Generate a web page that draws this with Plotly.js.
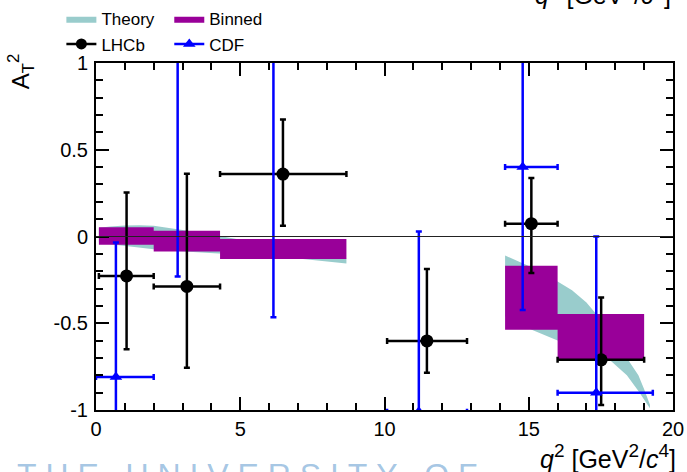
<!DOCTYPE html>
<html>
<head>
<meta charset="utf-8">
<script src="https://cdn.plot.ly/plotly-3.0.1.min.js"></script>
<style>html,body{margin:0;padding:0;background:#fff;}#chart{width:687px;height:472px;}</style>
</head>
<body>
<div id="chart"></div>
<script>
// ---- Theory band (two q^2 regions) ----
const theoryX1  = [0.1, 0.5, 1.0, 1.5, 2.0, 2.5, 3.0, 4.0, 5.0, 6.0, 7.0, 8.0, 8.68];
const theoryUp1 = [0.050, 0.058, 0.063, 0.065, 0.062, 0.052, 0.038, 0.012, -0.018, -0.048, -0.078, -0.108, -0.128];
const theoryLo1 = [-0.030, -0.045, -0.054, -0.064, -0.073, -0.081, -0.088, -0.098, -0.106, -0.115, -0.127, -0.142, -0.155];
const theoryX2  = [14.18, 15.0, 16.0, 16.5, 17.0, 17.3, 17.8, 18.4, 18.8, 19.0, 19.2];
const theoryUp2 = [-0.11, -0.17, -0.26, -0.31, -0.38, -0.44, -0.55, -0.70, -0.80, -0.88, -0.97];
const theoryLo2 = [-0.46, -0.53, -0.60, -0.63, -0.655, -0.675, -0.71, -0.80, -0.89, -0.94, -0.99];

// ---- Binned theory ----
const binLo  = [0.1, 2.0, 4.3, 14.18, 16.0];
const binHi  = [2.0, 4.3, 8.68, 16.0, 19.0];
const binTop = [0.054, 0.033, -0.015, -0.169, -0.446];
const binBot = [-0.048, -0.087, -0.130, -0.538, -0.707];

// ---- LHCb ----
const lhcbX     = [1.06, 3.15, 6.48, 11.47, 15.09, 17.51];
const lhcbY     = [-0.227, -0.288, 0.360, -0.602, 0.074, -0.711];
const lhcbErrUp = [0.481, 0.650, 0.314, 0.414, 0.263, 0.359];
const lhcbErrDn = [0.423, 0.468, 0.298, 0.183, 0.285, 0.260];
const lhcbBinLo = [0.1, 2.0, 4.3, 10.09, 14.18, 16.0];
const lhcbBinHi = [2.0, 4.3, 8.68, 12.86, 16.0, 19.0];

// ---- CDF ----
const cdfX     = [0.69, 2.83, 6.15, 11.19, 14.79, 17.34];
const cdfY     = [-0.81, 1.5, 1.6, -1.01, 0.40, -0.90];
const cdfErrUp = [0.776, 1.0, 1.0, 1.039, 0.80, 0.90];
const cdfErrDn = [0.80, 1.731, 2.065, 1.0, 0.823, 0.90];
const cdfBinLo = [0.0, 2.0, 4.3, 10.09, 14.18, 16.0];
const cdfBinHi = [2.0, 4.3, 8.68, 12.86, 16.0, 19.3];

const yTickVals = [-1, -0.5, 0, 0.5, 1];
const yTickText = ['-1', '-0.5', '0', '0.5', '1'];

const FONT = 'Liberation Sans, Arial, Helvetica, sans-serif';
const TEAL = 'rgb(153,204,204)';
const PURPLE = 'rgb(153,0,153)';
const BLUE = 'rgb(0,0,255)';

function rev(a){ return a.slice().reverse(); }
const bandX = [...theoryX1, ...rev(theoryX1), null, ...theoryX2, ...rev(theoryX2)];
const bandY = [...theoryUp1, ...rev(theoryLo1), null, ...theoryUp2, ...rev(theoryLo2)];

// binned boxes as closed polygons (drawn above the band)
const boxX = [], boxY = [];
binLo.forEach((lo, i) => {
  if (i) { boxX.push(null); boxY.push(null); }
  boxX.push(lo, binHi[i], binHi[i], lo);
  boxY.push(binBot[i], binBot[i], binTop[i], binTop[i]);
});

const sup = s => '<sup><span style="font-size:19px">' + s + '</span></sup>';
const q2title = '<i>q</i>' + sup('2') + ' [GeV' + sup('2') + '/<i>c</i>' + sup('4') + ']';

const traces = [
  { type:'scatter', x:bandX, y:bandY, mode:'lines', fill:'toself', fillcolor:TEAL,
    line:{width:0, color:TEAL}, name:'Theory', legend:'legend', hoverinfo:'skip' },
  { type:'scatter', x:boxX, y:boxY, mode:'lines', fill:'toself', fillcolor:PURPLE,
    line:{width:0, color:PURPLE}, name:'Binned', legend:'legend2', hoverinfo:'skip' },
  { type:'scatter', x:lhcbX, y:lhcbY, mode:'markers', showlegend:false,
    marker:{symbol:'circle', size:13, color:'black'},
    error_y:{type:'data', symmetric:false, array:lhcbErrUp, arrayminus:lhcbErrDn, color:'black', thickness:2.5, width:3},
    error_x:{type:'data', symmetric:false, array:lhcbBinHi.map((h,i)=>h-lhcbX[i]), arrayminus:lhcbX.map((x,i)=>x-lhcbBinLo[i]), color:'black', thickness:2.5, width:3} },
  { type:'scatter', x:cdfX, y:cdfY, mode:'markers', showlegend:false,
    marker:{symbol:'triangle-up', size:11, color:BLUE},
    error_y:{type:'data', symmetric:false, array:cdfErrUp, arrayminus:cdfErrDn, color:BLUE, thickness:2.5, width:3},
    error_x:{type:'data', symmetric:false, array:cdfBinHi.map((h,i)=>h-cdfX[i]), arrayminus:cdfX.map((x,i)=>x-cdfBinLo[i]), color:BLUE, thickness:2.5, width:3} },
  { type:'scatter', x:[null], y:[null], mode:'lines+markers', name:'LHCb', legend:'legend',
    line:{color:'black', width:2.5}, marker:{symbol:'circle', size:11, color:'black'} },
  { type:'scatter', x:[null], y:[null], mode:'lines+markers', name:'CDF', legend:'legend2',
    line:{color:BLUE, width:2.5}, marker:{symbol:'triangle-up', size:11, color:BLUE} }
];

const axisCommon = {
  showline:true, linecolor:'black', linewidth:2, mirror:'allticks',
  ticks:'inside', ticklen:13, tickwidth:2, tickcolor:'black',
  showgrid:false, zeroline:false, fixedrange:true, automargin:false,
  tickfont:{family:FONT, size:20, color:'black'}
};

const layout = {
  width:687, height:472,
  margin:{l:96, r:14, t:63, b:62, autoexpand:false},
  paper_bgcolor:'white', plot_bgcolor:'white',
  font:{family:FONT, color:'black'},
  showlegend:true,
  xaxis:Object.assign({}, axisCommon, {
    range:[0,20], tickmode:'linear', tick0:0, dtick:5, ticklabelstandoff:0,
    minor:{tickmode:'linear', tick0:0, dtick:1, ticks:'inside', ticklen:7, tickwidth:2, tickcolor:'black', showgrid:false}
  }),
  yaxis:Object.assign({}, axisCommon, {
    range:[-1,1], tickmode:'array', tickvals:yTickVals, ticktext:yTickText, ticklabelstandoff:2,
    minor:{tickmode:'linear', tick0:0, dtick:0.1, ticks:'inside', ticklen:7, tickwidth:2, tickcolor:'black', showgrid:false}
  }),
  legend:{x:-0.06, y:1.178, xanchor:'left', yanchor:'top', bgcolor:'rgba(0,0,0,0)',
    font:{family:FONT, size:17, color:'black'}, traceorder:'normal', tracegroupgap:0},
  legend2:{x:0.127, y:1.178, xanchor:'left', yanchor:'top', bgcolor:'rgba(0,0,0,0)',
    font:{family:FONT, size:17, color:'black'}, traceorder:'normal', tracegroupgap:0},
  shapes:[
    {type:'line', xref:'paper', x0:0, x1:1, yref:'y', y0:0, y1:0, layer:'above',
     line:{color:'#222', width:1}}
  ],
  annotations:[
    {xref:'paper', yref:'paper', x:1.009, y:-0.135, xanchor:'right', yanchor:'middle', showarrow:false,
     text:q2title, font:{family:FONT, size:25, color:'black'}},
    {xref:'paper', yref:'paper', x:1.0, y:1.2025, xanchor:'right', yanchor:'middle', showarrow:false,
     text:q2title, font:{family:FONT, size:25, color:'black'}},
    {xref:'paper', yref:'paper', x:-0.13, y:0.976, xanchor:'center', yanchor:'middle', showarrow:false, textangle:-90,
     text:'A<sub>T</sub><sup>2</sup>', font:{family:FONT, size:24, color:'black'}},
    {xref:'paper', yref:'paper', x:0.262, y:-0.186, xanchor:'center', yanchor:'middle', showarrow:false,
     text:'T\u00a0H\u00a0E\u00a0\u00a0\u00a0U\u00a0N\u00a0I\u00a0V\u00a0E\u00a0R\u00a0S\u00a0I\u00a0T\u00a0Y\u00a0\u00a0\u00a0O\u00a0F',
     font:{family:FONT, size:32, color:'rgba(90,150,205,0.55)'}}
  ]
};

Plotly.newPlot('chart', traces, layout, {displayModeBar:false, staticPlot:true});
</script>
</body>
</html>
